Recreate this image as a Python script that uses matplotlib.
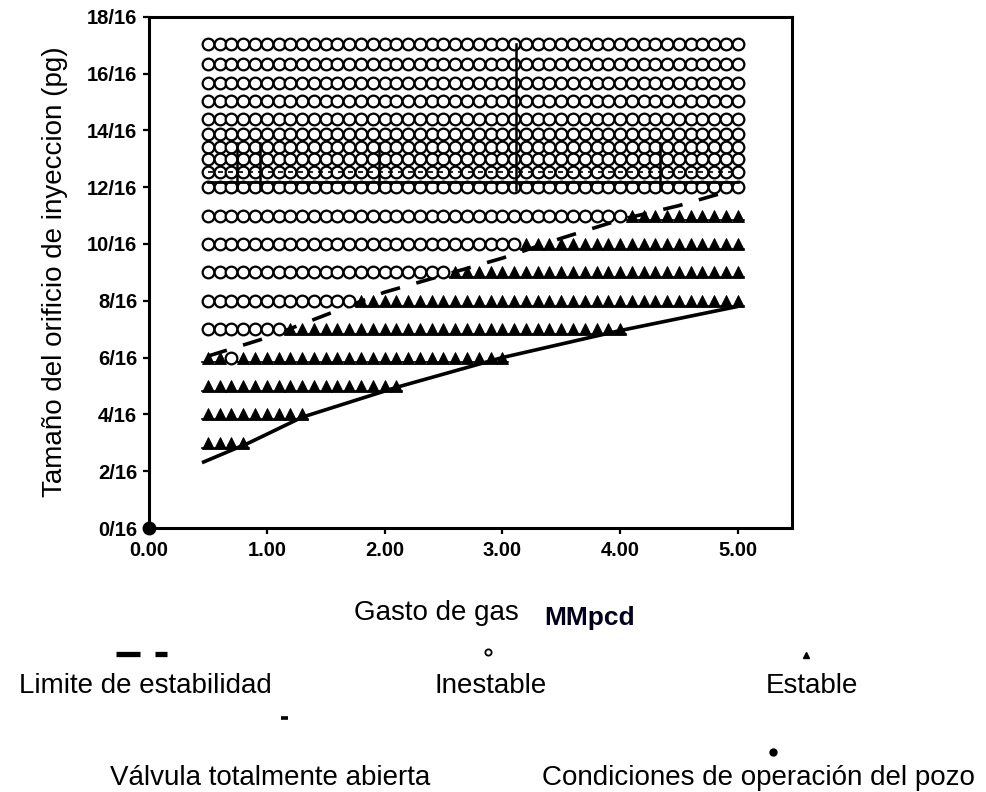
import matplotlib
matplotlib.use("Agg")
import matplotlib.pyplot as plt
from matplotlib.lines import Line2D

# Gas injection rates evaluated (MMpcd)
gas_rates = [0.5, 0.6, 0.7, 0.8, 0.9, 1.0, 1.1, 1.2, 1.3, 1.4,
             1.5, 1.6, 1.7, 1.8, 1.9, 2.0, 2.1, 2.2, 2.3, 2.4,
             2.5, 2.6, 2.7, 2.8, 2.9, 3.0, 3.1, 3.2, 3.3, 3.4,
             3.5, 3.6, 3.7, 3.8, 3.9, 4.0, 4.1, 4.2, 4.3, 4.4,
             4.5, 4.6, 4.7, 4.8, 4.9, 5.0]

# Orifice sizes (1/16 in) that are unstable over the whole rate range
unstable_sizes = [17.03, 16.33, 15.68, 15.04, 14.40, 13.87, 13.40, 13.00, 12.53, 12.00]

# Orifice sizes with a stable region: unstable up to `unstable_until`,
# stable from there up to `stable_until`
mixed_sizes = [11, 10, 9, 8, 7, 6, 5, 4, 3]
unstable_until = [4.0, 3.1, 2.5, 1.7, 1.1, 0.0, 0.0, 0.0, 0.0]
stable_until = [5.0, 5.0, 5.0, 5.0, 4.0, 3.0, 2.1, 1.3, 0.8]
isolated_unstable_rate = [0.7]
isolated_unstable_size = [6]

# Stability limit
limit_rates = [0.5, 1.0, 1.5, 2.0, 2.5, 3.0, 3.5, 4.0, 4.5, 5.0]
limit_sizes = [6.05, 6.7, 7.5, 8.3, 8.9, 9.5, 10.2, 10.85, 11.35, 11.95]

# Fully open valve curve
valve_rates = [0.45, 0.85, 1.3, 2.1, 3.0, 4.0, 5.0]
valve_sizes = [2.3, 3.0, 3.9, 4.95, 6.0, 6.95, 7.8]

# Well operating conditions
operating_rate = [0.0]
operating_size = [0.0]

# Extra reference marks in the upper band
band_line_size = 12.17
band_dash_size = 12.53
band_vertical_rates = [0.75, 0.94, 1.95, 3.12, 4.34]
band_vertical_top = [13.55, 13.55, 13.55, 17.05, 13.55]
band_vertical_bottom = 11.9

x_ticks = [0, 1, 2, 3, 4, 5]
x_tick_labels = ["0.00", "1.00", "2.00", "3.00", "4.00", "5.00"]
y_ticks = [0, 2, 4, 6, 8, 10, 12, 14, 16, 18]
y_tick_labels = ["0/16", "2/16", "4/16", "6/16", "8/16", "10/16",
                 "12/16", "14/16", "16/16", "18/16"]

plt.rcParams['font.family'] = ['Liberation Sans', 'DejaVu Sans']

W, H = 987, 792
fig = plt.figure(figsize=(W / 100, H / 100), dpi=100)
fig.patch.set_facecolor('white')


def fx(px):
    return px / W


def fy(py):
    return 1 - py / H


ax = fig.add_axes([fx(149), fy(528), fx(792) - fx(149), fy(16.7) - fy(528)])
ax.set_xlim(0, 5.46)
ax.set_ylim(0, 18)

circle_kw = dict(linestyle='none', marker='o', markersize=8.4,
                 markerfacecolor='white', markeredgecolor='black',
                 markeredgewidth=1.6, zorder=4)
tri_kw = dict(linestyle='none', marker='^', markersize=8.4,
              markerfacecolor='black', markeredgecolor='black',
              markeredgewidth=0.6, zorder=4)

# Fully unstable rows
for s in unstable_sizes:
    ax.plot(gas_rates, [s] * len(gas_rates), **circle_kw)

# Mixed rows
eps = 1e-6
for s, u_end, s_end in zip(mixed_sizes, unstable_until, stable_until):
    xs_u = [r for r in gas_rates if r <= u_end + eps]
    xs_s = [r for r in gas_rates if u_end + eps < r <= s_end + eps]
    if s in isolated_unstable_size:
        xs_s = [r for r in xs_s
                if all(abs(r - q) > eps for q in isolated_unstable_rate)]
    if xs_u:
        ax.plot(xs_u, [s] * len(xs_u), **circle_kw)
    ax.plot(xs_s, [s] * len(xs_s), **tri_kw)
    # base line under each stable row
    if xs_s:
        ax.plot([xs_s[0] - 0.05, xs_s[-1] + 0.05], [s - 0.17] * 2,
                color='black', lw=1.2, zorder=4)
ax.plot(isolated_unstable_rate, isolated_unstable_size, **circle_kw)

# Band marks
ax.plot([gas_rates[0], gas_rates[-1]], [band_line_size] * 2,
        color='black', lw=2.0, zorder=5)
ax.plot([gas_rates[0], gas_rates[-1]], [band_dash_size] * 2,
        color='black', lw=1.2, ls=(0, (3, 3)), zorder=5)
for xr, top in zip(band_vertical_rates, band_vertical_top):
    ax.plot([xr, xr], [band_vertical_bottom, top], color='black',
            lw=1.8, zorder=5)

# Curves
ax.plot(limit_rates, limit_sizes, color='black', lw=2.6,
        ls=(0, (5.5, 4.7)), zorder=3.5)
ax.plot(valve_rates, valve_sizes, color='black', lw=2.6, zorder=3.5,
        solid_capstyle='butt')

# Operating point
ax.plot(operating_rate, operating_size, linestyle='none', marker='o',
        markersize=9, color='black', clip_on=False, zorder=6)

# Axes styling
for sp in ax.spines.values():
    sp.set_linewidth(2.2)
    sp.set_color('black')
ax.set_xticks(x_ticks)
ax.set_xticklabels(x_tick_labels, fontsize=14.5, fontweight='bold')
ax.set_yticks(y_ticks)
ax.set_yticklabels(y_tick_labels, fontsize=14.5, fontweight='bold')
ax.tick_params(axis='both', direction='out', length=4.5, width=1.6,
               color='black')
ax.tick_params(axis='y', pad=4)
ax.tick_params(axis='x', pad=5)

# Axis titles
fig.text(fx(55), fy(272), "Tamaño del orificio de inyeccion (pg)",
         rotation=90, ha='center', va='center', fontsize=20)
fig.text(fx(436), fy(620), "Gasto de gas", ha='center', va='baseline',
         fontsize=20)
fig.text(fx(590), fy(625), "MMpcd", ha='center', va='baseline',
         fontsize=19, fontweight='bold', color='#00001e')

# Legend (markers above labels)
fig.add_artist(Line2D([fx(116), fx(140)], [fy(654), fy(654)],
                      color='black', lw=3.8, solid_capstyle='butt'))
fig.add_artist(Line2D([fx(155), fx(167)], [fy(654), fy(654)],
                      color='black', lw=3.8, solid_capstyle='butt'))
fig.text(fx(145), fy(693), "Limite de estabilidad", ha='center',
         va='baseline', fontsize=20)

fig.add_artist(Line2D([fx(488)], [fy(652)], linestyle='none', marker='o',
                      markersize=4.5, markerfacecolor='white',
                      markeredgecolor='black', markeredgewidth=1.3))
fig.text(fx(491), fy(693), "Inestable", ha='center', va='baseline',
         fontsize=20)

fig.add_artist(Line2D([fx(806)], [fy(655)], linestyle='none', marker='^',
                      markersize=5, color='black'))
fig.text(fx(812), fy(693), "Estable", ha='center', va='baseline',
         fontsize=20)

fig.add_artist(Line2D([fx(281), fx(288)], [fy(718), fy(718)],
                      color='black', lw=2.6, solid_capstyle='butt'))
fig.text(fx(270), fy(785), "Válvula totalmente abierta", ha='center',
         va='baseline', fontsize=20)

fig.add_artist(Line2D([fx(773)], [fy(752)], linestyle='none', marker='o',
                      markersize=5, color='black'))
fig.text(fx(758), fy(785), "Condiciones de operación del pozo",
         ha='center', va='baseline', fontsize=20)

fig.savefig("out.png", dpi=100, facecolor='white')
